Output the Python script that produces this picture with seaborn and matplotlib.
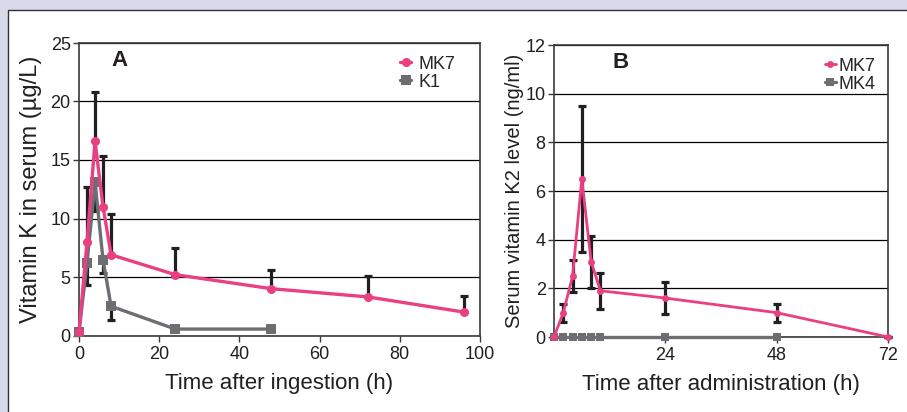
import numpy as np
import pandas as pd
import matplotlib
matplotlib.use("Agg")
import matplotlib.pyplot as plt
import seaborn as sns
from matplotlib.patches import Rectangle

# Panel A: vitamin K in serum after ingestion
a_mk7_time = [0, 2, 4, 6, 8, 24, 48, 72, 96]
a_mk7_val = [0.3, 8.0, 16.6, 11.0, 6.9, 5.2, 4.0, 3.3, 2.0]
a_mk7_err_up = [0, 4.7, 4.2, 4.3, 3.5, 2.3, 1.6, 1.8, 1.4]

a_k1_time = [0, 2, 4, 6, 8, 24, 48]
a_k1_val = [0.3, 6.2, 13.1, 6.45, 2.5, 0.55, 0.55]
a_k1_err_down = [0, 1.9, 2.5, 1.15, 1.2, 0, 0]

# Panel B: serum vitamin K2 after administration
b_time = [0, 2, 4, 6, 8, 10, 24, 48, 72]
b_mk7_val = [0, 1.0, 2.5, 6.5, 3.1, 1.9, 1.6, 1.0, 0]
b_mk7_err = [0, 0.37, 0.65, 3.0, 1.07, 0.75, 0.65, 0.37, 0]

b_mk4_time = [0, 2, 4, 6, 8, 10, 24, 48]
b_mk4_val = [0, 0, 0, 0, 0, 0, 0, 0]

PINK = "#ea3f80"
GRAY = "#6d6e71"
ERR = "#231f20"
BG = "#d9d9ec"
TXT = "#231f20"

sns.set_style("white")
plt.rcParams['font.family'] = ['Liberation Sans', 'DejaVu Sans']

fig = plt.figure(figsize=(9.07, 4.12), dpi=100)
fig.patch.set_facecolor(BG)
panel = Rectangle((8 / 907, -0.05), 1.0, 1 - 10 / 412 + 0.05,
                  transform=fig.transFigure, facecolor="white",
                  edgecolor="#333333", linewidth=1.0, zorder=-10)
fig.add_artist(panel)

axA = fig.add_axes([79 / 907, (412 - 335.5) / 412, 401 / 907, 292.5 / 412])
axB = fig.add_axes([554 / 907, (412 - 337) / 412, 334 / 907, 292 / 412])


def style_axes(ax):
    ax.set_facecolor("none")
    for s in ax.spines.values():
        s.set_color("#3a3a3a")
        s.set_linewidth(1.2)
    ax.grid(axis="y", color="black", linewidth=0.9)
    ax.grid(axis="x", visible=False)
    ax.set_axisbelow(True)
    ax.tick_params(axis="both", direction="out", length=4, width=1.0,
                   colors="#3a3a3a", labelcolor=TXT, labelsize=13,
                   left=True, bottom=True)
    ax.tick_params(axis="y", pad=2)


# ---- Panel A ----
df_a_mk7 = pd.DataFrame({"t": a_mk7_time, "v": a_mk7_val})
df_a_k1 = pd.DataFrame({"t": a_k1_time, "v": a_k1_val})

axA.errorbar(a_mk7_time, a_mk7_val, yerr=[np.zeros(len(a_mk7_err_up)), a_mk7_err_up],
             fmt="none", ecolor=ERR, elinewidth=2.3, capsize=3, capthick=2.3, zorder=2)
axA.errorbar(a_k1_time, a_k1_val, yerr=[a_k1_err_down, np.zeros(len(a_k1_err_down))],
             fmt="none", ecolor=ERR, elinewidth=2.3, capsize=3, capthick=2.3, zorder=2)
sns.lineplot(data=df_a_k1, x="t", y="v", ax=axA, color=GRAY, linewidth=2.4,
             marker="s", markersize=6.5, markeredgewidth=0, label="K1", zorder=3)
sns.lineplot(data=df_a_mk7, x="t", y="v", ax=axA, color=PINK, linewidth=2.4,
             marker="o", markersize=6.5, markeredgewidth=0, label="MK7", zorder=4)
for ln in axA.lines:
    ln.set_clip_on(False)

axA.set_xlim(0, 100)
axA.set_ylim(0, 25)
axA.set_xticks([0, 20, 40, 60, 80, 100])
axA.set_yticks([0, 5, 10, 15, 20, 25])
style_axes(axA)
axA.set_xlabel("Time after ingestion (h)", fontsize=16, color=TXT, labelpad=7)
axA.set_ylabel("Vitamin K in serum (µg/L)", fontsize=17, color=TXT, labelpad=6)
axA.text(0.1, 0.94, "A", transform=axA.transAxes, fontsize=16, fontweight="bold",
         ha="center", va="center", color=TXT)
h, l = axA.get_legend_handles_labels()
axA.legend(h[::-1], l[::-1], loc="upper right", bbox_to_anchor=(0.97, 1.0),
           frameon=False, fontsize=13, handlelength=0.6, handletextpad=0.4,
           labelspacing=0.05, borderaxespad=0.3)

# ---- Panel B ----
df_b_mk7 = pd.DataFrame({"t": b_time, "v": b_mk7_val})
df_b_mk4 = pd.DataFrame({"t": b_mk4_time, "v": b_mk4_val})

axB.errorbar(b_time, b_mk7_val, yerr=b_mk7_err, fmt="none", ecolor=ERR,
             elinewidth=2.3, capsize=3, capthick=2.3, zorder=2)
sns.lineplot(data=df_b_mk4, x="t", y="v", ax=axB, color=GRAY, linewidth=2.4,
             marker="s", markersize=5.5, markeredgewidth=0, label="MK4", zorder=3)
sns.lineplot(data=df_b_mk7, x="t", y="v", ax=axB, color=PINK, linewidth=2.0,
             marker="o", markersize=5, markeredgewidth=0, label="MK7", zorder=4)
for ln in axB.lines:
    ln.set_clip_on(False)

axB.set_xlim(0, 72)
axB.set_ylim(0, 12)
axB.set_xticks([24, 48, 72])
axB.set_yticks([0, 2, 4, 6, 8, 10, 12])
style_axes(axB)
axB.set_xlabel("Time after administration (h)", fontsize=16, color=TXT, labelpad=7)
axB.set_ylabel("Serum vitamin K2 level (ng/ml)", fontsize=14.5, color=TXT, labelpad=1)
axB.text(0.2, 0.94, "B", transform=axB.transAxes, fontsize=16, fontweight="bold",
         ha="center", va="center", color=TXT)
h, l = axB.get_legend_handles_labels()
axB.legend(h[::-1], l[::-1], loc="upper right", bbox_to_anchor=(1.0, 1.0),
           frameon=False, fontsize=13, handlelength=0.6, handletextpad=0.15,
           labelspacing=0.05, borderaxespad=0.3)

fig.savefig("out.png", dpi=100, facecolor=fig.get_facecolor())
